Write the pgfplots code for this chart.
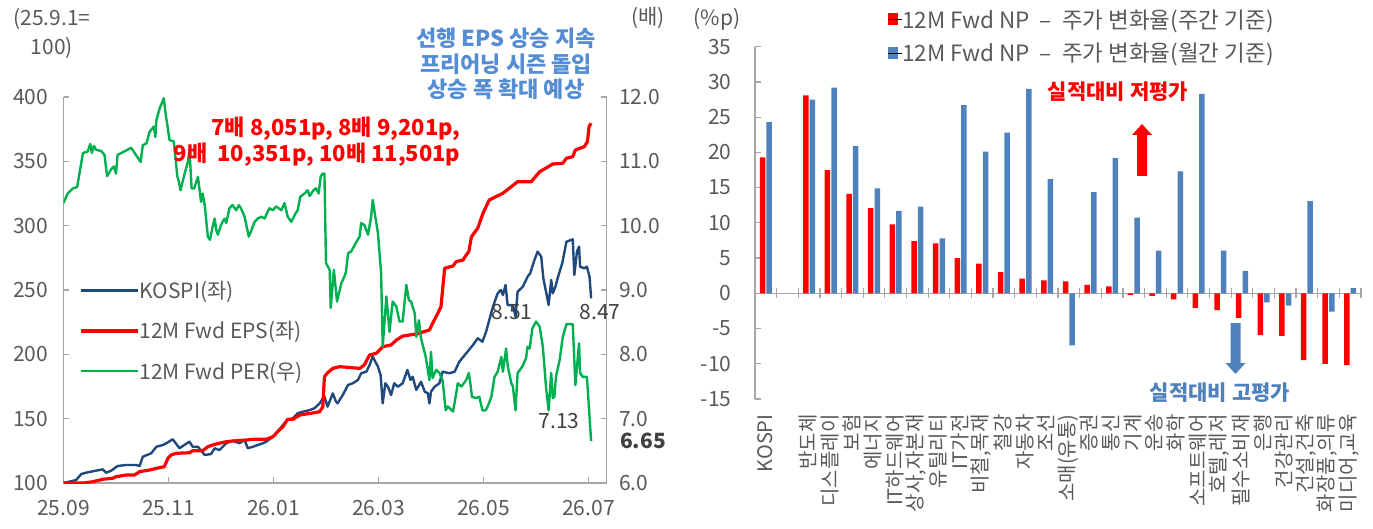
\documentclass[border=0pt]{standalone}
\usepackage{fontspec}
\setmainfont{Noto Sans CJK KR}
\usepackage{pgfplots}
\pgfplotsset{compat=1.18}
\definecolor{axisgray}{RGB}{166,166,166}
\definecolor{labelgray}{RGB}{89,89,89}
\definecolor{kospinavy}{RGB}{31,73,125}
\definecolor{epsred}{RGB}{255,0,0}
\definecolor{pergreen}{RGB}{0,176,80}
\definecolor{barblue}{RGB}{79,129,189}
\definecolor{annblue}{RGB}{84,141,212}
\definecolor{numgray}{RGB}{64,64,64}
\newcommand{\tfont}{\fontsize{21}{25}\selectfont}
\begin{document}
\begin{tikzpicture}
\path[use as bounding box] (0pt,0pt) rectangle (1373pt,528pt);
% ---------------- left chart: KOSPI and EPS (left axis)
\begin{axis}[
  at={(63.5pt,45pt)}, anchor=south west,
  scale only axis, width=543pt, height=386pt,
  xmin=0, xmax=10.343, ymin=100, ymax=400,
  axis x line*=bottom, axis y line*=left,
  axis line style={draw=axisgray, line width=1.2pt},
  tick style={draw=axisgray, line width=1.2pt},
  tick align=inside, major tick length=6pt,
  xtick={0,2,4,6,8,10},
  xticklabels={25.09,25.11,26.01,26.03,26.05,26.07},
  ytick={100,150,200,250,300,350,400},
  ticklabel style={font=\tfont, text=labelgray},
  yticklabel style={xshift=-12pt},
  xticklabel style={yshift=-14pt},
  /pgf/number format/assume math mode=true,
  legend style={at={(axis cs:0.30,257)}, anchor=north west, draw=none, fill=none,
    inner sep=0pt, row sep=21.5pt, nodes={inner sep=0pt, text=labelgray, font=\tfont}},
  legend cell align=left,
  legend image code/.code={\draw[#1] (0pt,0pt) -- (48pt,0pt); \path (0pt,0pt) -- (57pt,0pt);},
]
\addplot[kospinavy, line width=2.4pt, line join=round] coordinates {
(0,100) (0.24,102.3) (0.34,107.0) (0.43,108.0) (0.62,109.6) (0.75,110.6) (0.81,108.0) (0.91,109.6) (1.03,113.2) (1.19,114.0) (1.38,114.0) (1.45,113.2) (1.51,120.4) (1.67,123.1) (1.77,128.2) (1.89,129.5) (1.96,130.9) (2.08,134.0) (2.21,127.0) (2.30,129.5) (2.40,132.1) (2.46,128.2) (2.56,128.2) (2.69,121.8) (2.81,122.5) (2.88,127.0) (2.97,125.6) (3.10,130.9) (3.22,132.9) (3.35,130.9) (3.45,133.4) (3.51,127.0) (3.61,128.2) (3.70,129.5) (3.80,130.9) (3.86,132.1) (3.99,136.0) (4.08,139.9) (4.18,145.1) (4.27,149.0) (4.37,150.3) (4.46,154.2) (4.56,155.4) (4.69,156.7) (4.78,158.1) (4.88,161.9) (4.94,165.8) (4.97,167.1) (5.03,159.3) (5.13,169.7) (5.19,163.2) (5.22,161.9) (5.32,168.4) (5.42,176.2) (5.51,177.5) (5.61,180.1) (5.67,185.3) (5.77,186.5) (5.83,191.7) (5.89,198.2) (5.99,190.4) (6.04,183.9) (6.08,161.9) (6.13,177.5) (6.18,174.8) (6.24,168.4) (6.30,177.5) (6.37,174.8) (6.46,177.5) (6.55,187.8) (6.61,180.1) (6.65,182.6) (6.72,172.3) (6.81,178.7) (6.88,171.0) (6.94,169.7) (6.97,161.9) (7.00,171.0) (7.07,174.8) (7.16,177.5) (7.22,186.5) (7.35,185.3) (7.45,186.5) (7.54,194.3) (7.67,200.8) (7.80,207.3) (7.89,212.5) (7.98,209.8) (8.05,217.6) (8.11,226.7) (8.18,237.0) (8.27,247.4) (8.33,250.0) (8.37,246.1) (8.42,253.9) (8.46,238.3) (8.56,238.3) (8.61,229.2) (8.65,248.7) (8.75,252.6) (8.84,260.3) (8.89,263.0) (8.97,273.3) (9.03,279.8) (9.10,275.9) (9.14,259.1) (9.21,244.8) (9.24,238.3) (9.29,257.8) (9.32,247.4) (9.37,252.6) (9.42,260.3) (9.50,270.8) (9.58,287.5) (9.70,289.4) (9.73,261.7) (9.78,279.8) (9.82,283.7) (9.84,268.1) (9.92,266.9) (9.97,268.1) (10.02,260.3) (10.05,243.5)
};
\addlegendentry{KOSPI(좌)}
\addplot[epsred, line width=3.2pt, line join=round] coordinates {
(0,100) (0.37,100) (0.56,101.0) (0.75,102.9) (0.94,103.7) (1.00,104.9) (1.19,106.2) (1.35,106.2) (1.45,108.8) (1.64,110.1) (1.77,111.4) (1.92,112.7) (1.99,119.2) (2.05,121.8) (2.15,123.1) (2.40,123.5) (2.46,125.1) (2.65,125.1) (2.75,128.2) (2.84,129.5) (2.97,130.9) (3.10,132.1) (3.29,132.9) (3.48,133.4) (3.61,134.0) (3.86,134.0) (3.99,136.0) (4.08,139.9) (4.18,143.8) (4.27,149.5) (4.37,149.5) (4.43,151.1) (4.50,152.8) (4.62,153.6) (4.72,154.2) (4.88,155.4) (4.94,159.3) (4.97,182.6) (5.03,185.7) (5.13,189.1) (5.26,190.4) (5.64,189.1) (5.73,191.7) (5.83,199.5) (5.96,200.8) (6.08,205.9) (6.24,207.3) (6.34,211.1) (6.46,214.2) (6.72,215.8) (6.97,218.9) (7.03,224.1) (7.13,231.9) (7.19,237.0) (7.26,266.9) (7.42,268.7) (7.48,272.0) (7.61,273.3) (7.67,277.2) (7.72,279.8) (7.77,291.4) (7.89,298.0) (7.99,309.6) (8.11,320.0) (8.37,325.2) (8.65,334.2) (8.91,334.2) (9.07,341.9) (9.32,347.9) (9.51,348.5) (9.58,352.4) (9.70,353.6) (9.75,358.8) (9.92,361.4) (9.98,365.3) (10.01,376.9) (10.05,379.6)
};
\addlegendentry{12M Fwd EPS(좌)}
\addlegendimage{pergreen, line width=2.4pt}
\addlegendentry{12M Fwd PER(우)}
\end{axis}
% ---------------- left chart: PER (right axis)
\begin{axis}[
  at={(63.5pt,45pt)}, anchor=south west,
  scale only axis, width=543pt, height=386pt,
  xmin=0, xmax=10.343, ymin=6, ymax=12,
  axis y line*=right, axis x line=none,
  axis line style={draw=axisgray, line width=1.2pt},
  tick style={draw=axisgray, line width=1.2pt},
  tick align=inside, major tick length=6pt,
  ytick={6,7,8,9,10,11,12},
  yticklabel style={/pgf/number format/.cd, fixed, fixed zerofill, precision=1, /tikz/.cd,
    font=\tfont, text=labelgray, xshift=9pt},
  /pgf/number format/assume math mode=true,
]
\addplot[pergreen, line width=2.4pt, line join=round] coordinates {
(0.00,10.35) (0.08,10.50) (0.18,10.58) (0.26,10.60) (0.37,11.13) (0.46,11.15) (0.51,11.27) (0.54,11.13) (0.58,11.24) (0.62,11.18) (0.72,11.16) (0.78,11.10) (0.83,10.77) (0.91,10.88) (0.96,10.92) (1.00,10.81) (1.03,11.10) (1.29,11.21) (1.42,11.05) (1.47,10.99) (1.51,11.25) (1.58,11.28) (1.64,11.46) (1.68,11.50) (1.72,11.54) (1.75,11.38) (1.77,11.64) (1.83,11.82) (1.87,11.90) (1.91,11.98) (1.94,11.77) (2.02,11.33) (2.10,11.31) (2.17,10.76) (2.19,10.71) (2.23,10.55) (2.30,10.79) (2.37,10.99) (2.40,11.18) (2.44,10.58) (2.49,10.58) (2.56,10.76) (2.62,10.37) (2.65,10.50) (2.69,10.32) (2.75,9.83) (2.79,9.78) (2.84,9.98) (2.88,10.11) (2.91,9.93) (2.94,9.86) (3.00,10.01) (3.03,10.06) (3.07,10.11) (3.10,10.04) (3.16,10.27) (3.22,10.32) (3.29,10.24) (3.34,10.32) (3.38,10.27) (3.45,10.14) (3.49,9.98) (3.53,9.83) (3.58,9.93) (3.64,10.06) (3.70,10.11) (3.77,10.14) (3.83,10.11) (3.92,10.27) (3.99,10.24) (4.05,10.30) (4.15,10.24) (4.21,10.35) (4.27,10.14) (4.34,10.06) (4.42,10.19) (4.46,10.24) (4.51,10.45) (4.59,10.50) (4.65,10.55) (4.69,10.46) (4.76,10.55) (4.81,10.58) (4.86,10.50) (4.90,10.77) (4.94,10.81) (4.97,10.81) (5.00,9.42) (5.07,9.31) (5.09,8.72) (5.15,9.31) (5.21,8.82) (5.29,9.10) (5.35,9.21) (5.38,9.28) (5.42,9.57) (5.48,9.60) (5.58,9.75) (5.64,9.83) (5.67,10.04) (5.73,10.01) (5.80,9.86) (5.86,10.14) (5.89,10.40) (5.92,10.24) (5.99,9.88) (6.05,9.26) (6.08,8.12) (6.15,8.90) (6.21,8.35) (6.27,8.82) (6.34,8.74) (6.40,8.51) (6.46,8.51) (6.53,9.08) (6.58,8.84) (6.62,8.82) (6.69,8.64) (6.72,8.27) (6.77,8.53) (6.81,8.25) (6.90,7.96) (6.97,7.60) (7.00,8.04) (7.03,7.63) (7.10,7.76) (7.16,7.71) (7.22,7.60) (7.28,7.13) (7.32,7.19) (7.42,7.11) (7.48,7.39) (7.51,7.55) (7.58,7.50) (7.67,7.60) (7.72,7.71) (7.75,7.55) (7.78,7.34) (7.86,7.32) (7.92,7.34) (7.98,7.13) (8.04,7.13) (8.08,7.19) (8.15,7.34) (8.21,7.65) (8.27,7.73) (8.34,7.96) (8.37,7.73) (8.43,8.09) (8.46,7.83) (8.53,7.55) (8.56,7.50) (8.61,7.13) (8.65,7.71) (8.74,7.81) (8.81,7.94) (8.84,8.12) (8.88,8.09) (8.93,8.40) (9.00,8.51) (9.07,8.43) (9.13,8.12) (9.19,7.50) (9.24,7.13) (9.29,7.71) (9.32,7.32) (9.35,7.34) (9.38,7.65) (9.45,7.91) (9.51,8.27) (9.58,8.47) (9.70,8.47) (9.75,7.52) (9.82,8.17) (9.84,7.71) (9.89,7.65) (9.97,7.65) (10.05,6.65)
};
\end{axis}
% ---------------- right chart: zero line with category ticks
\begin{axis}[
  at={(755pt,129pt)}, anchor=south west,
  scale only axis, width=606pt, height=352.3pt,
  xmin=-0.5, xmax=27.5, ymin=-15, ymax=35,
  axis x line=middle, axis y line=none,
  axis line style={-, draw=axisgray, line width=1.2pt},
  xtick={-0.5,0.5,...,27.5},
  xticklabel style={text opacity=0, font=\tiny},
  tick align=center, major tick length=10pt,
  tick style={draw=axisgray, line width=1.2pt},
]
\end{axis}
% ---------------- right chart: bars
\begin{axis}[
  at={(755pt,129pt)}, anchor=south west,
  scale only axis, width=606pt, height=352.3pt,
  xmin=-0.5, xmax=27.5, ymin=-15, ymax=35,
  axis y line*=left, axis x line*=bottom,
  x axis line style={draw=none},
  y axis line style={draw=axisgray, line width=1.2pt},
  xtick={0,...,27},
  xticklabels={KOSPI,{},반도체,디스플레이,보험,에너지,IT하드웨어,{상사,자본재},유틸리티,IT가전,{비철,목재},철강,자동차,조선,소매(유통),증권,통신,기계,운송,화학,소프트웨어,{호텔,레저},필수소비재,은행,건강관리,{건설,건축},{화장품,의류},{미디어,교육}},
  xtick style={draw=none},
  ytick style={draw=axisgray, line width=1.2pt},
  ytick={-15,-10,-5,0,5,10,15,20,25,30,35},
  tick align=inside, major tick length=6pt,
  yticklabel style={font=\tfont, text=labelgray, xshift=-20pt},
  xticklabel style={rotate=90, anchor=east, font=\fontsize{20}{22}\selectfont, text=labelgray, xshift=-12pt, yshift=1pt},
  /pgf/number format/assume math mode=true,
  legend style={at={(axis cs:5.62,40.3)}, anchor=north west, draw=none, fill=none,
    inner sep=0pt, row sep=13pt, nodes={inner sep=0pt, text=labelgray, font=\fontsize{22.5}{26}\selectfont}},
  legend cell align=left,
]
\addplot[ybar, bar width=5.5pt, bar shift=-3.3pt, fill=epsred, draw=none, forget plot] coordinates {
(0,19.3) (2,28.1) (3,17.5) (4,14.1) (5,12.1) (6,9.8) (7,7.4) (8,7.1) (9,5.0) (10,4.2) (11,3.0) (12,2.1) (13,1.85) (14,1.7) (15,1.2) (16,1.0) (17,-0.25) (18,-0.35) (19,-0.85) (20,-2.1) (21,-2.4) (22,-3.5) (23,-5.95) (24,-6.05) (25,-9.5) (26,-10.0) (27,-10.2)
};
\addplot[ybar, bar width=5.5pt, bar shift=3.3pt, fill=barblue, draw=none, forget plot] coordinates {
(0,24.3) (2,27.5) (3,29.2) (4,20.9) (5,14.9) (6,11.7) (7,12.3) (8,7.8) (9,26.7) (10,20.1) (11,22.8) (12,29.0) (13,16.2) (14,-7.4) (15,14.35) (16,19.2) (17,10.75) (18,6.05) (19,17.3) (20,28.3) (21,6.05) (22,3.2) (23,-1.3) (24,-1.75) (25,13.1) (26,-2.6) (27,0.75)
};
\addlegendimage{legend image code/.code={\fill[epsred] (0pt,-5pt) rectangle (9pt,6pt); \path (0pt,0pt) -- (14pt,0pt);}}
\addlegendentry{12M Fwd NP\ \ –\ \ 주가 변화율(주간 기준)}
\addlegendimage{legend image code/.code={\fill[barblue] (0pt,-5pt) rectangle (9pt,6pt); \path (0pt,0pt) -- (14pt,0pt);}}
\addlegendentry{12M Fwd NP\ \ –\ \ 주가 변화율(월간 기준)}
\end{axis}
% ---------------- texts
\node[font=\tfont, text=labelgray, align=center] at (52pt,495pt) {(25.9.1=\\[4pt]100)};
\node[font=\tfont, text=labelgray] at (648pt,510pt) {(배)};
\node[font=\tfont, text=labelgray] at (717pt,509pt) {(\%p)};
\node[font=\bfseries\fontsize{22}{25.5}\selectfont, text=annblue, align=center] at (506pt,464pt) {선행 EPS 상승 지속\\프리어닝 시즌 돌입\\상승 폭 확대 예상};
\node[font=\bfseries\fontsize{22}{26}\selectfont, text=epsred, anchor=east] at (464pt,399pt) {7배 8,051p, 8배 9,201p,};
\node[font=\bfseries\fontsize{22}{26}\selectfont, text=epsred, anchor=east] at (464pt,373pt) {9배\ \ 10,351p, 10배 11,501p};
\node[font=\tfont, text=numgray] at (512pt,216pt) {8.51};
\node[font=\tfont, text=numgray] at (600pt,216pt) {8.47};
\node[font=\tfont, text=numgray] at (559pt,107pt) {7.13};
\node[font=\bfseries\tfont, text=numgray] at (643pt,87pt) {6.65};
\node[font=\bfseries\tfont, text=epsred] at (1118pt,436pt) {실적대비 저평가};
\node[font=\bfseries\tfont, text=barblue] at (1220pt,135pt) {실적대비 고평가};
\fill[epsred] (1137pt,352pt) -- (1147pt,352pt) -- (1147pt,393pt) -- (1152pt,393pt) -- (1142pt,404pt) -- (1132pt,393pt) -- (1137pt,393pt) -- cycle;
\fill[barblue] (1230.5pt,205pt) -- (1240.5pt,205pt) -- (1240.5pt,165pt) -- (1245.5pt,165pt) -- (1235.5pt,154pt) -- (1225.5pt,165pt) -- (1230.5pt,165pt) -- cycle;
\end{tikzpicture}
\end{document}
